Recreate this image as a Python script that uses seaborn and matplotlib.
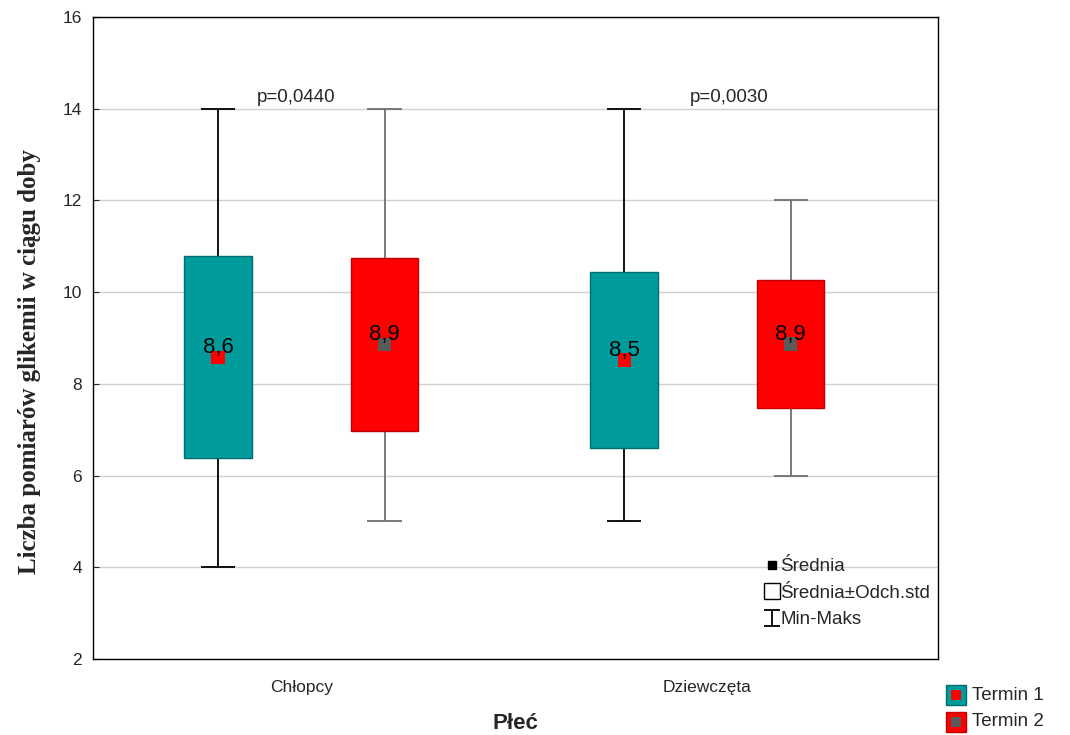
import numpy as np
import pandas as pd
import matplotlib
matplotlib.use("Agg")
import matplotlib.pyplot as plt
from matplotlib.lines import Line2D
from matplotlib.patches import Rectangle
from matplotlib.path import Path
import seaborn as sns

# ---- data ----
groups = ["Chłopcy", "Dziewczęta"]
terms = ["Termin 1", "Termin 2"]
means_t1 = [8.58, 8.52]
sd_t1 = [2.20, 1.91]
min_t1 = [4, 5]
max_t1 = [14, 14]
means_t2 = [8.86, 8.87]
sd_t2 = [1.88, 1.39]
min_t2 = [5, 6]
max_t2 = [14, 12]
p_values = ["p=0,0440", "p=0,0030"]

sns.set_style("white")
plt.rcParams['font.family'] = ['Liberation Sans', 'DejaVu Sans']

fig = plt.figure(figsize=(10.7, 7.35), dpi=100)
ax = fig.add_axes([0.0869, 0.1034, 0.7897, 0.8735])

box_colors = ["#009c9c", "#ff0000"]
box_edges = ["#006e6e", "#c00000"]
mean_colors = ["#ff0000", "#5a5a5a"]
whisk_colors = ["#000000", "#707070"]
offsets = [-0.205, 0.205]
bw = 0.167
cw = 0.084

rows = []
for ti, (m, s, mn, mx) in enumerate([(means_t1, sd_t1, min_t1, max_t1),
                                      (means_t2, sd_t2, min_t2, max_t2)]):
    for gi in range(len(groups)):
        x = gi + offsets[ti]
        ax.vlines(x, mn[gi], mx[gi], color=whisk_colors[ti], lw=1.3, zorder=2)
        ax.hlines([mn[gi], mx[gi]], x - cw / 2, x + cw / 2, color=whisk_colors[ti], lw=1.3, zorder=2)
        ax.bar(x, 2 * s[gi], bottom=m[gi] - s[gi], width=bw, color=box_colors[ti],
               edgecolor=box_edges[ti], lw=1, zorder=3)
        rows.append(dict(x=x, mean=m[gi], term=terms[ti]))
        ax.text(x, m[gi] - 0.02, f"{m[gi]:.1f}".replace(".", ","), ha="center", va="bottom",
                fontsize=16, color="black", zorder=5)

df = pd.DataFrame(rows)
sns.scatterplot(data=df, x="x", y="mean", hue="term", palette=mean_colors, marker="s",
                s=90, edgecolor="none", legend=False, ax=ax, zorder=4)

for gi, p in enumerate(p_values):
    ax.text(gi + (-0.013 if gi == 0 else 0.055), 14.05, p, ha="center", va="bottom", fontsize=13.5)

ax.set_xlim(-0.513, 1.568)
ax.set_ylim(2, 16)
ax.set_yticks(np.arange(2, 17, 2))
ax.set_xticks([0, 1])
ax.set_xticklabels(groups, fontsize=12.5)
ax.tick_params(axis="y", labelsize=12.5, direction="in", length=4, left=True, pad=8)
ax.tick_params(axis="x", length=0, pad=15)
ax.yaxis.grid(True, color="#d0d0d0", lw=1)
ax.set_axisbelow(True)
for sp in ax.spines.values():
    sp.set_color("black")
    sp.set_linewidth(1)

ax.set_ylabel("Liczba pomiarów glikemii w ciągu doby", fontsize=18, fontweight="bold",
              family="Liberation Serif")
ax.yaxis.set_label_coords(-0.062, 0.463)
ax.set_xlabel("Płeć", fontsize=16, fontweight="bold", labelpad=13)

# inner legend
ibeam = Path([(-1, 1), (1, 1), (0, 1), (0, -1), (-1, -1), (1, -1)],
             [Path.MOVETO, Path.LINETO, Path.MOVETO, Path.LINETO, Path.MOVETO, Path.LINETO])
handles = [
    Line2D([], [], ls="none", marker="s", color="black", markersize=6),
    Line2D([], [], ls="none", marker="s", markerfacecolor="white", markeredgecolor="black",
           markersize=11, markeredgewidth=1),
    Line2D([], [], ls="none", marker=ibeam, color="black", markersize=12, markeredgewidth=1.3),
]
ax.legend(handles, ["Średnia", "Średnia±Odch.std", "Min-Maks"], loc="lower right",
          bbox_to_anchor=(1.0, 0.036), frameon=False, fontsize=13.5, handlelength=0.6,
          handletextpad=0.15, labelspacing=0.5, borderaxespad=0)

# outer legend (figure coordinates)
W, H = 1070, 735
for i, t in enumerate(terms):
    y = 685 + i * 27
    fig.add_artist(Rectangle((946 / W, 1 - (y + 20) / H), 20 / W, 20 / H, transform=fig.transFigure,
                             facecolor=box_colors[i], edgecolor=box_edges[i], lw=1))
    fig.add_artist(Rectangle((951 / W, 1 - (y + 15) / H), 10 / W, 10 / H, transform=fig.transFigure,
                             facecolor=mean_colors[i], edgecolor="none"))
    fig.text(972 / W, 1 - (y + 10) / H, t, fontsize=13.5, va="center", ha="left")

fig.savefig("out.png", dpi=100)
